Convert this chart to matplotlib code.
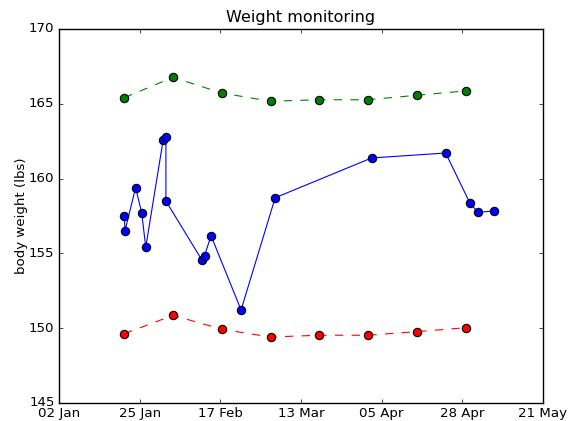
import datetime as dt
import matplotlib
matplotlib.use("Agg")
from matplotlib import pyplot as plt
import matplotlib.dates as mdates

plt.style.use("classic")
plt.rcParams["font.family"] = ["DejaVu Sans"]
plt.rcParams["font.size"] = 9.6
plt.rcParams["xtick.major.size"] = 3.2
plt.rcParams["ytick.major.size"] = 3.2
plt.rcParams["xtick.major.pad"] = 3.2
plt.rcParams["ytick.major.pad"] = 3.2

# measured weights
weight_dates = ["2013-01-20 18:00", "2013-01-20 23:00", "2013-01-24 00:00",
                "2013-01-25 18:00", "2013-01-26 22:00", "2013-01-31 22:00",
                "2013-02-01 17:00", "2013-02-01 17:00", "2013-02-12 02:00",
                "2013-02-12 19:00", "2013-02-14 16:00", "2013-02-23 07:00",
                "2013-03-05 02:00", "2013-04-01 19:00", "2013-04-23 01:00",
                "2013-04-29 23:00", "2013-05-02 07:00", "2013-05-06 20:00"]
weight = [157.5, 156.52, 159.39, 157.72, 155.41, 162.58, 162.8, 158.5, 154.54,
          154.85, 156.18, 151.22, 158.72, 161.38, 161.71, 158.39, 157.75, 157.83]

# upper / lower bounds every two weeks
band_dates = ["2013-01-20 18:00", "2013-02-03 18:00", "2013-02-17 18:00",
              "2013-03-03 18:00", "2013-03-17 18:00", "2013-03-31 18:00",
              "2013-04-14 18:00", "2013-04-28 18:00"]
upper = [165.41, 166.77, 165.72, 165.17, 165.27, 165.27, 165.57, 165.86]
lower = [149.63, 150.86, 149.93, 149.41, 149.53, 149.53, 149.77, 150.03]

tick_labels = ["02 Jan", "25 Jan", "17 Feb", "13 Mar", "05 Apr", "28 Apr", "21 May"]

fmt = "%Y-%m-%d %H:%M"
wd = [dt.datetime.strptime(s, fmt) for s in weight_dates]
bd = [dt.datetime.strptime(s, fmt) for s in band_dates]

fig = plt.figure(figsize=(5.78, 4.21), dpi=100, facecolor="white")
ax = fig.add_axes([59 / 578, 18 / 421, 484 / 578, 374 / 421])

mk = dict(marker="o", markersize=6, markeredgecolor="k", markeredgewidth=0.8)
ax.plot(bd, upper, "g--", linewidth=0.8, dashes=(6, 6), **mk)
ax.plot(bd, lower, "r--", linewidth=0.8, dashes=(6, 6), **mk)
ax.plot(wd, weight, "b-", linewidth=0.8, **mk)

start = mdates.date2num(dt.datetime(2013, 1, 2))
end = mdates.date2num(dt.datetime(2013, 5, 21))
ax.set_xlim(start, end)
step = (end - start) / (len(tick_labels) - 1)
ax.set_xticks([start + i * step for i in range(len(tick_labels))])
ax.set_xticklabels(tick_labels)
ax.set_ylim(145, 170)
ax.set_yticks(range(145, 171, 5))

ax.set_title("Weight monitoring", fontsize=11.5)
ax.set_ylabel("body weight (lbs)", labelpad=1)

fig.savefig("out.png", dpi=100, facecolor="white")
